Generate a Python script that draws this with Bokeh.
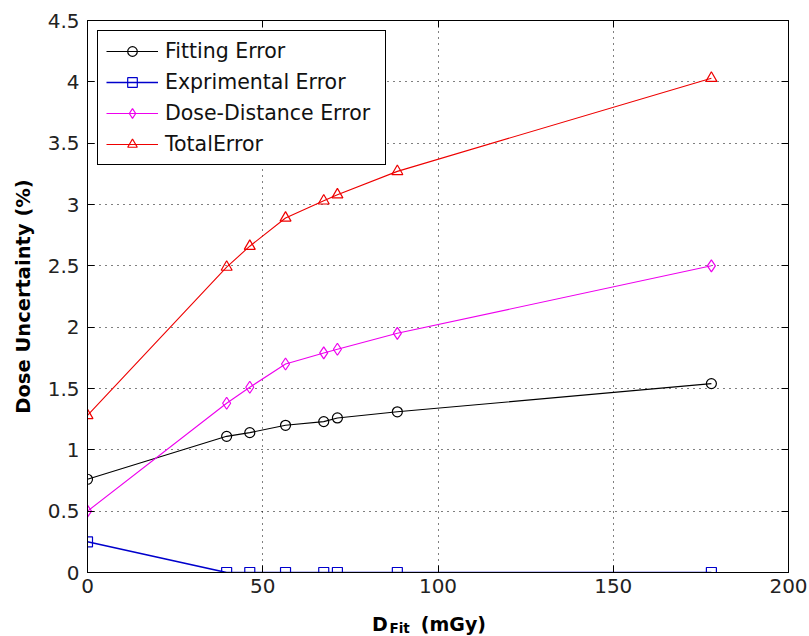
from bokeh.plotting import figure
from bokeh.models import Range1d, LinearAxis, FixedTicker, Label
from bokeh.embed import file_html
from bokeh.resources import INLINE

# ---- data ----
d_fit = [0, 39.7, 46.3, 56.5, 67.4, 71.3, 88.4, 178]
fitting_error = [0.76, 1.11, 1.14, 1.20, 1.23, 1.26, 1.31, 1.54]
exprimental_error = [0.25, 0, 0, 0, 0, 0, 0, 0]
dose_distance_error = [0.50, 1.38, 1.51, 1.70, 1.79, 1.82, 1.95, 2.50]
total_error = [1.28, 2.49, 2.66, 2.89, 3.03, 3.08, 3.27, 4.03]

series_names = ["Fitting Error", "Exprimental Error", "Dose-Distance Error", "TotalError"]

x_ticks = [0, 50, 100, 150, 200]
x_tick_labels = ["0", "50", "100", "150", "200"]
y_ticks = [0, 0.5, 1, 1.5, 2, 2.5, 3, 3.5, 4, 4.5]
y_tick_labels = ["0", "0.5", "1", "1.5", "2", "2.5", "3", "3.5", "4", "4.5"]

y_label = "Dose Uncertainty (%)"
NBSP = "\u00a0"
x_label_main = "D" + NBSP * 5 + "(mGy)"
x_label_sub = "Fit"

# ---- layout ----
W, H = 809, 636
ML, MR, MT, MB = 87, 21, 20, 64
X0, X1 = 0, 200
Y0, Y1 = 0, 4.5
frame_w = W - ML - MR
frame_h = H - MT - MB
px_x = (X1 - X0) / frame_w
px_y = (Y1 - Y0) / frame_h

TICK_FONT = "DejaVu Sans"

p = figure(width=W, height=H, output_backend="svg", toolbar_location=None,
           x_range=Range1d(X0, X1), y_range=Range1d(Y0, Y1),
           min_border_left=ML, min_border_right=MR, min_border_top=MT, min_border_bottom=MB,
           background_fill_color="white", border_fill_color="white")
p.outline_line_color = "black"
p.outline_line_width = 1
p.outline_line_alpha = 1

def style_axis(ax, ticks, labels, show_labels=True):
    ax.ticker = FixedTicker(ticks=ticks)
    if show_labels:
        ax.major_label_overrides = {t: l for t, l in zip(ticks, labels)}
    else:
        ax.major_label_overrides = {t: "" for t in ticks}
        ax.major_label_standoff = 0
    ax.major_tick_in = 7
    ax.major_tick_out = 0
    ax.minor_tick_in = 0
    ax.minor_tick_out = 0
    ax.major_tick_line_color = "black"
    ax.axis_line_color = "black"
    ax.major_label_text_font = TICK_FONT
    ax.major_label_text_font_size = "20px"
    ax.major_label_text_color = "#222222"

style_axis(p.xaxis[0], x_ticks, x_tick_labels)
style_axis(p.yaxis[0], y_ticks, y_tick_labels)
p.xaxis[0].major_label_standoff = 6
p.yaxis[0].major_label_standoff = 8

p.yaxis[0].axis_label = y_label
p.yaxis[0].axis_label_text_font = "DejaVu Sans"
p.yaxis[0].axis_label_text_font_style = "bold"
p.yaxis[0].axis_label_text_font_size = "19.5px"
p.yaxis[0].axis_label_text_color = "black"
p.yaxis[0].axis_label_standoff = 10

ax_r = LinearAxis()
style_axis(ax_r, y_ticks, y_tick_labels, show_labels=False)
p.add_layout(ax_r, "right")
ax_t = LinearAxis()
style_axis(ax_t, x_ticks, x_tick_labels, show_labels=False)
p.add_layout(ax_t, "above")

for g in (p.xgrid[0], p.ygrid[0]):
    g.grid_line_color = "black"
    g.grid_line_alpha = 1
    g.grid_line_width = 1
    g.grid_line_dash = "1 5"
p.xgrid[0].ticker = FixedTicker(ticks=x_ticks)
p.ygrid[0].ticker = FixedTicker(ticks=y_ticks)

colors = ["black", "#0000cc", "#ee00ee", "#ee0000"]
markers = ["circle", "square", "diamond", "triangle"]
sizes = [10, 10, 12, 11]
widths = [1.1, 1.6, 1.1, 1.1]
all_series = [fitting_error, exprimental_error, dose_distance_error, total_error]

for name, ys, c, m, s, lw in zip(series_names, all_series, colors, markers, sizes, widths):
    p.line(d_fit, ys, line_color=c, line_width=lw, legend_label=name)
    p.scatter(d_fit, ys, marker=m, size=s, fill_color=None, line_color=c,
              line_width=1.2, legend_label=name)

lg = p.legend[0]
lg.location = "top_left"
lg.margin = 10
lg.border_line_color = "black"
lg.border_line_width = 1
lg.border_line_alpha = 1
lg.background_fill_color = "white"
lg.background_fill_alpha = 1
lg.label_text_font = TICK_FONT
lg.label_text_font_size = "20.5px"
lg.label_text_color = "#111111"
lg.glyph_width = 52
lg.glyph_height = 24
lg.label_height = 24
lg.label_width = 212
lg.spacing = 7
lg.padding = 8
lg.label_standoff = 7

# x-axis label: "D (mGy)" in the bottom panel, subscript "Fit" in the top panel
# (both positioned in data units, so they land below the frame)
def dx(px):
    return X0 + (px - ML) * px_x

def dy(py):
    return Y0 - (py - (MT + frame_h)) * px_y

p.add_layout(Label(x=dx(371.5), y=dy(623), text=x_label_main, text_font="DejaVu Sans",
                   text_font_style="bold", text_font_size="19px", text_color="black",
                   text_baseline="alphabetic", text_align="left"), "below")
p.add_layout(Label(x=dx(389), y=dy(627), text=x_label_sub, text_font="DejaVu Sans",
                   text_font_style="bold", text_font_size="13.5px", text_color="black",
                   text_baseline="alphabetic", text_align="left"), "above")

open("out.html", "w").write(file_html(p, INLINE))
